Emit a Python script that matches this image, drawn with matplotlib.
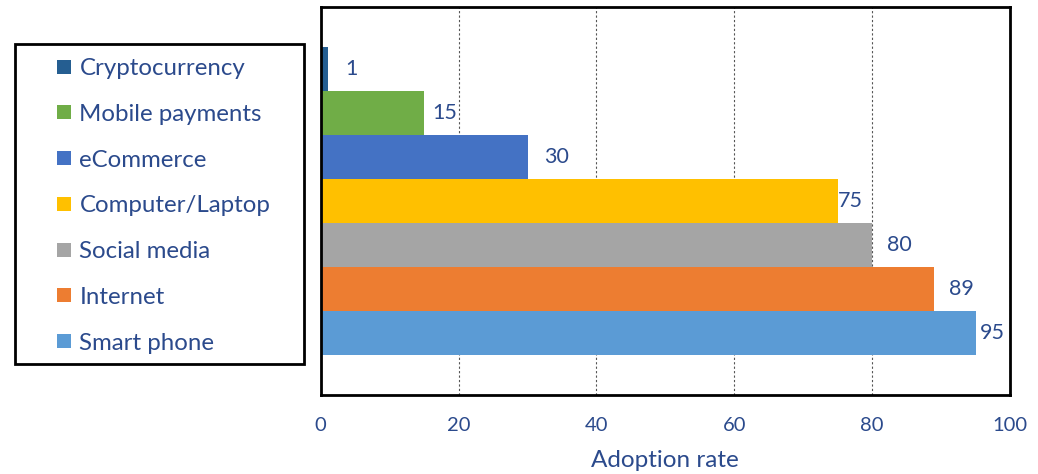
import matplotlib
matplotlib.use('Agg')
import matplotlib.pyplot as plt
from matplotlib.lines import Line2D
from matplotlib.patches import Rectangle
import numpy as np

# данные (сверху вниз)
categories = ['Cryptocurrency', 'Mobile payments', 'eCommerce', 'Computer/Laptop',
              'Social media', 'Internet', 'Smart phone']
values = [1, 15, 30, 75, 80, 89, 95]
colors = ['#255E91', '#70AD47', '#4472C4', '#FFC000', '#A5A5A5', '#ED7D31', '#5B9BD5']
label_offsets = [13, 6, 12, 0, 11, 11, 3]  # отступ подписей, pt
xticks = [0, 20, 40, 60, 80, 100]

text_color = '#2B4A8C'
plt.rcParams['font.family'] = ['Lato', 'DejaVu Sans']

fig = plt.figure(figsize=(10.38, 4.74), dpi=100)
ax = fig.add_axes([0.309, 0.1667, 0.664, 0.8185])

pos = np.arange(len(categories))
for i, (cat, val, col) in enumerate(zip(categories, values, colors)):
    ax.barh(pos[i], val, height=1.0, color=col, label=cat)
    ax.annotate(str(val), (val, pos[i]), xytext=(label_offsets[i], 0),
                textcoords='offset points', va='center', ha='left',
                fontsize=15.5, color=text_color)

ax.set_xlim(0, 100)
ax.set_ylim(7.41, -1.41)
ax.set_xticks(xticks)
ax.set_yticks([])
ax.tick_params(axis='x', length=0, pad=16, labelsize=14.5, labelcolor=text_color)
ax.xaxis.grid(True, linestyle=(0, (2, 2)), color='#555555', linewidth=0.8)
ax.set_axisbelow(True)
for s in ax.spines.values():
    s.set_linewidth(2)
    s.set_color('black')
ax.set_xlabel('Adoption rate', fontsize=17.5, color=text_color, labelpad=11.5)

# рамка легенды
fig.patches.append(Rectangle((15 / 1038, 1 - 364 / 474), 289 / 1038, 320 / 474,
                             transform=fig.transFigure, fill=False,
                             edgecolor='black', linewidth=2))

handles = [Line2D([], [], marker='s', linestyle='none', markersize=10.5,
                  markeredgewidth=0, markerfacecolor=c) for c in colors]
leg = fig.legend(handles, categories, loc='upper left',
                 bbox_to_anchor=(41 / 1038, 1 - 46 / 474), frameon=False,
                 fontsize=17.3, labelspacing=1.03, handlelength=0.9,
                 handletextpad=0.2, borderpad=0)
for t in leg.get_texts():
    t.set_color(text_color)

fig.savefig('out.png', dpi=100)
